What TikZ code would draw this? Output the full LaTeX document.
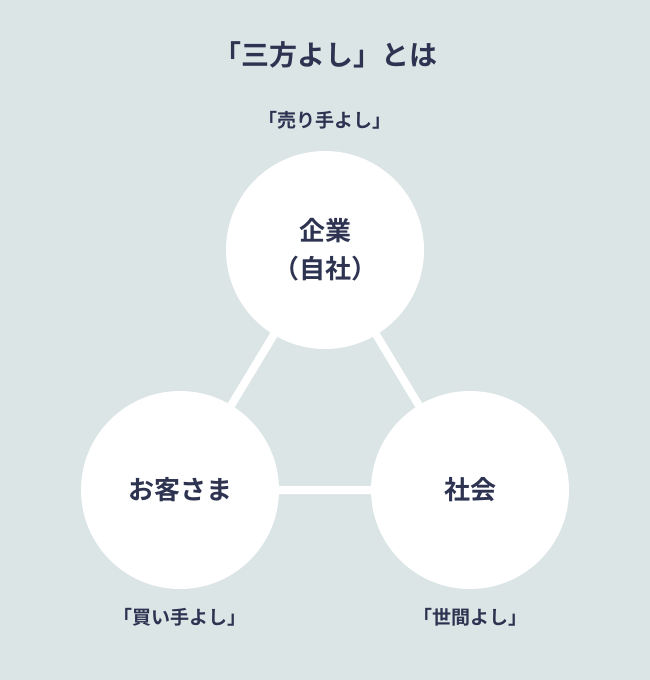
\documentclass[tikz,border=0pt]{standalone}
\usepackage{fontspec}
\setmainfont{Noto Sans CJK JP}[BoldFont={Noto Sans CJK JP Bold}]
\definecolor{bg}{HTML}{DCE5E6}
\definecolor{ink}{HTML}{2D3350}
\begin{document}
\begin{tikzpicture}[x=1pt,y=-1pt,
  circ/.style={circle,fill=white,minimum size=198pt,inner sep=0pt,text=ink,font=\fontsize{26}{38}\selectfont\bfseries,align=center},
  lbl/.style={text=ink,font=\fontsize{19}{22}\selectfont\bfseries},
  link/.style={white,line width=8pt}]
\fill[bg] (0,0) rectangle (650,680);
\useasboundingbox (0,0) rectangle (650,680);
\node[text=ink,font=\fontsize{28}{30}\selectfont\bfseries] (title) at (325,55) {「三方よし」とは};
\coordinate (ct) at (325,250);
\coordinate (cl) at (180,490);
\coordinate (cr) at (470,490);
\draw[link] (ct) -- (cl) (ct) -- (cr) (cl) -- (cr);
\node[circ] (top) at (ct) {企業\\（自社）};
\node[circ] (left) at (cl) {お客さま};
\node[circ] (right) at (cr) {社会};
\node[lbl] (lt) at (325,120) {「売り手よし」};
\node[lbl] (ll) at (180,617) {「買い手よし」};
\node[lbl] (lr) at (470,617) {「世間よし」};
\end{tikzpicture}
\end{document}
